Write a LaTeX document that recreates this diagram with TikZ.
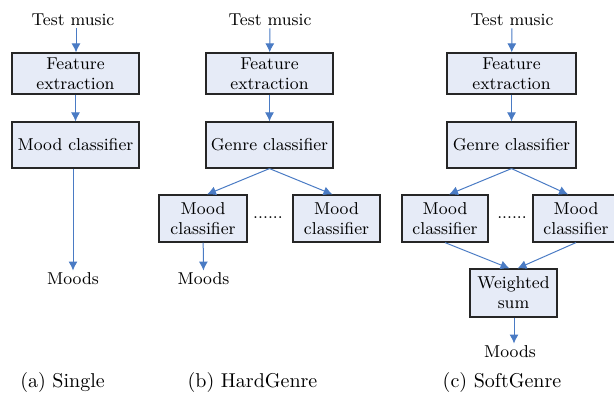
\documentclass[tikz,border=0pt]{standalone}
\usetikzlibrary{arrows.meta}
\definecolor{boxfill}{RGB}{230,235,247}
\definecolor{flowblue}{RGB}{74,123,196}

\begin{document}
\begin{tikzpicture}[x=0.5pt,y=-0.5pt,
        blk/.style={draw=black!85,fill=boxfill,line width=0.6pt,inner sep=0pt,align=center,
                    font=\fontsize{8.6}{10}\selectfont},
        txt/.style={inner sep=1pt,font=\fontsize{8.6}{10}\selectfont},
        subcap/.style={inner sep=0pt,font=\fontsize{10}{12}\selectfont},
        flow/.style={flowblue,line width=0.5pt,-{Latex[length=4.5pt,width=4.5pt]}}]
        \useasboundingbox (0,0) rectangle (614,394);
        % (a) Single
        \draw (73,20)    node[txt] (tma) {Test music};
        \draw (75.5,73.5) node[blk,minimum width=63.5pt,minimum height=20.5pt] (fea) {Feature\\extraction};
        \draw (75.5,145) node[blk,minimum width=63.5pt,minimum height=23pt] (mca) {Mood classifier};
        \draw (73,279)   node[txt] (moa) {Moods};
        \draw (62.5,382) node[subcap] (capa) {(a) Single};
        \draw[flow] (tma.south -| 76,0) -- (fea.north -| 76,0);
        \draw[flow] (fea) -- (mca);
        \draw[flow] (mca.south -| moa) -- (moa);
        % (b) HardGenre
        \draw (270,20)    node[txt] (tmb) {Test music};
        \draw (269.5,73.5) node[blk,minimum width=63.5pt,minimum height=20.5pt] (feb) {Feature\\extraction};
        \draw (269.5,145) node[blk,minimum width=63.5pt,minimum height=23pt] (gcb) {Genre classifier};
        \draw (203,218.5) node[blk,minimum width=44pt,minimum height=23.5pt] (mcb1) {Mood\\classifier};
        \draw (336.5,218.5) node[blk,minimum width=43.5pt,minimum height=23.5pt] (mcb2) {Mood\\classifier};
        \draw (268,219)   node[txt,anchor=base] (dtb) {......};
        \draw (203.5,279) node[txt] (mob) {Moods};
        \draw (252.5,382) node[subcap] (capb) {(b) HardGenre};
        \draw[flow] (tmb) -- (feb);
        \draw[flow] (feb) -- (gcb);
        \draw[flow] (gcb.south) -- ([xshift=2pt]mcb1.north);
        \draw[flow] (gcb.south) -- ([xshift=-2pt]mcb2.north);
        \draw[flow] (mcb1) -- (mob);
        % (c) SoftGenre
        \draw (512,20)    node[txt] (tmc) {Test music};
        \draw (511.5,73.5) node[blk,minimum width=64.5pt,minimum height=20.5pt] (fec) {Feature\\extraction};
        \draw (511.5,145) node[blk,minimum width=64.5pt,minimum height=23pt] (gcc) {Genre classifier};
        \draw (445,218.5) node[blk,minimum width=43pt,minimum height=23.5pt] (mcc1) {Mood\\classifier};
        \draw (576,218.5) node[blk,minimum width=43pt,minimum height=23.5pt] (mcc2) {Mood\\classifier};
        \draw (512,219)   node[txt,anchor=base] (dtc) {......};
        \draw (513.5,293) node[blk,minimum width=43.5pt,minimum height=24pt] (wsc) {Weighted\\sum};
        \draw (510,352)   node[txt] (moc) {Moods};
        \draw (502,382)   node[subcap] (capc) {(c) SoftGenre};
        \draw[flow] (tmc) -- (fec);
        \draw[flow] (fec) -- (gcc);
        \draw[flow] (gcc.south) -- ([xshift=2pt]mcc1.north);
        \draw[flow] (gcc.south) -- ([xshift=-4pt]mcc2.north);
        \draw[flow] (mcc1.south) -- ([xshift=-2pt]wsc.north);
        \draw[flow] (mcc2.south) -- ([xshift=2pt]wsc.north);
        \draw[flow] (wsc.south -| 514,0) -- (moc.north -| 514,0);
\end{tikzpicture}
\end{document}
